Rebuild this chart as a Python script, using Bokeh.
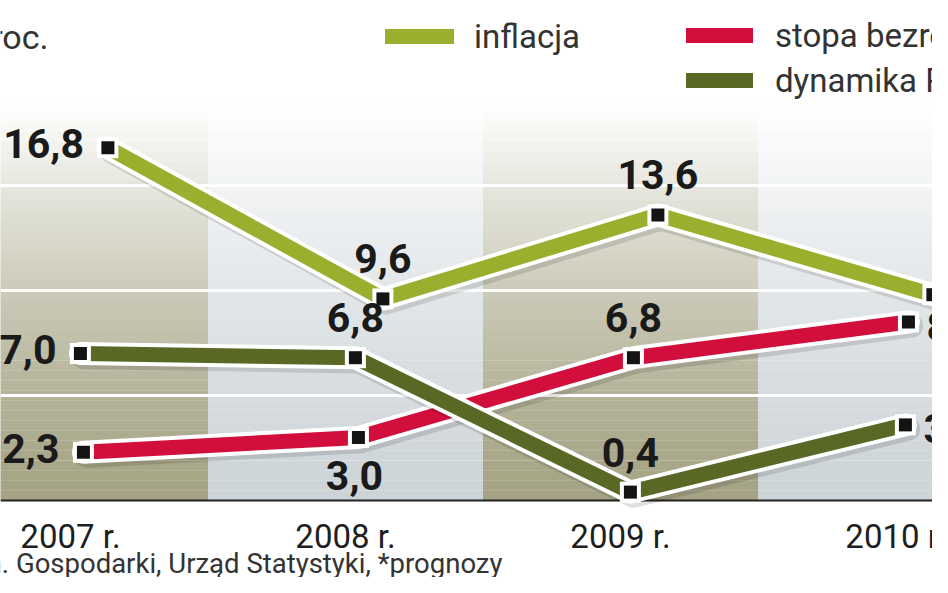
from bokeh.plotting import figure
from bokeh.models import ColumnDataSource, Range1d, Legend, LegendItem, Label
from bokeh.transform import dodge
from bokeh.core.properties import value, field
from bokeh.embed import file_html
from bokeh.resources import INLINE

# ---------------- data ----------------
years = [2007, 2008, 2009, 2010]
year_labels = ["2007 r.", "2008 r.", "2009 r.", "2010 r."]
inflacja = [16.8, 9.6, 13.6, 9.8]
stopa_bezrobocia = [2.3, 3.0, 6.8, 8.5]
dynamika_pkb = [7.0, 6.8, 0.4, 3.6]
gridline_values = [5, 10, 15]
unit_text = "w proc."
source_text = "Źródło: Min. Gospodarki, Urząd Statystyki, *prognozy"

# ---------------- layout ----------------
W, H = 932, 577
PX_PER_YEAR = 275.0
X0_PX = 70.0          # screen x of the first year centre
PX_PER_UNIT = 21.0
Y0_PX = 500.0         # screen y (from top) of value 0

x_start = years[0] - X0_PX / PX_PER_YEAR
x_end = x_start + W / PX_PER_YEAR
y_top = Y0_PX / PX_PER_UNIT
y_bottom = -(H - Y0_PX) / PX_PER_UNIT

FONT = "Roboto"

p = figure(width=W, height=H,
           x_range=Range1d(x_start, x_end), y_range=Range1d(y_bottom, y_top),
           output_backend="svg", toolbar_location=None,
           x_axis_location=None, y_axis_location=None,
           min_border=0, outline_line_color=None,
           background_fill_color="white", border_fill_color="white")
p.grid.visible = False

# ---------------- background bands (vertical gradient) ----------------
band_colors = [(165, 163, 132), (205, 212, 216)]
band_top = 19.0
steps = 40
bl, br, bb, bt, bc = [], [], [], [], []
for i, yr in enumerate(years):
    base = band_colors[i % 2]
    for k in range(steps):
        b = band_top * k / steps
        t = band_top * (k + 1) / steps
        f = min(1.0, (((b + t) / 2) / band_top) ** 1.3)
        c = tuple(int(round(ch + (255 - ch) * f)) for ch in base)
        bl.append(yr - 0.5)
        br.append(yr + 0.5)
        bb.append(b)
        bt.append(t + 0.01)
        bc.append("#%02x%02x%02x" % c)
p.quad(left=bl, right=br, bottom=bb, top=bt, fill_color=bc, line_color=None)

p.hspan(y=gridline_values, line_color="white", line_width=3)
p.hspan(y=[0], line_color="#222222", line_width=2)

# ---------------- series ----------------
def fmt(v):
    return ("%.1f" % v).replace(".", ",")

POS = {"left": (-24, -4, "right"), "above": (0, -40, "center"),
       "below": (-4, 38, "center"), "right": (18, 4, "left")}

series = [
    dict(name="stopa bezrobocia", values=stopa_bezrobocia, color="#d20f3c", dodge=0.047,
         pos=["left", "below", "above", "right"]),
    dict(name="dynamika PKB", values=dynamika_pkb, color="#5a6826", dodge=0.036,
         pos=["left", "above", "above", "right"]),
    dict(name="inflacja", values=inflacja, color="#9aaf2e", dodge=0.136,
         pos=["left", "above", "above", "right"]),
]

renderers = {}
sources = []
for s in series:
    src = ColumnDataSource(dict(
        x=years, y=s["values"], label=[fmt(v) for v in s["values"]],
        xo=[POS[q][0] for q in s["pos"]], yo=[POS[q][1] for q in s["pos"]],
        align=[POS[q][2] for q in s["pos"]]))
    sources.append((s, src))
    xs = dodge("x", s["dodge"])
    p.line(x=dodge("x", s["dodge"] + 0.012), y=dodge("y", -0.2), source=src,
           line_color="black", line_alpha=0.12, line_width=23,
           line_join="round", line_cap="round")
    p.line(x=xs, y="y", source=src, line_color="white", line_width=23,
           line_join="round", line_cap="round")
    r = p.line(x=xs, y="y", source=src, line_color=s["color"], line_width=15,
               line_join="round", line_cap="round")
    renderers[s["name"]] = r

for s, src in sources:
    xs = dodge("x", s["dodge"])
    p.scatter(x=xs, y="y", source=src, marker="square", size=21,
              fill_color="white", line_color=None)
    p.scatter(x=xs, y="y", source=src, marker="square", size=13,
              fill_color="#141414", line_color=None)

for s, src in sources:
    xs = dodge("x", s["dodge"])
    p.text(x=xs, y="y", text="label", source=src,
           x_offset="xo", y_offset="yo", text_align=field("align"),
           text_baseline="middle", text_font=value(FONT), text_font_style="bold",
           text_font_size="41px", text_color="#1a1a1a")

# ---------------- category labels ----------------
ysrc = ColumnDataSource(dict(x=years, text=year_labels))
p.text(x="x", y=-1.72, text="text", source=ysrc, text_align="center",
       text_baseline="middle", text_font=value(FONT), text_font_size="33px",
       text_color="#1e1e1e")

# ---------------- legends ----------------
leg_common = dict(padding=0, margin=0, border_line_color=None,
                  background_fill_alpha=0, glyph_height=40, label_height=40,
                  label_text_font=FONT, label_text_font_size="33px",
                  label_text_color="#333333")
leg1 = Legend(items=[LegendItem(label="inflacja", renderers=[renderers["inflacja"]])],
              location=(385, 521), glyph_width=69, label_standoff=20, **leg_common)
leg2 = Legend(items=[LegendItem(label="stopa bezrobocia", renderers=[renderers["stopa bezrobocia"]]),
                     LegendItem(label="dynamika PKB", renderers=[renderers["dynamika PKB"]])],
              location=(686, 477), glyph_width=67, label_standoff=22, spacing=5, **leg_common)
p.add_layout(leg1)
p.add_layout(leg2)

# ---------------- texts ----------------
p.add_layout(Label(x=48, y=541, x_units="screen", y_units="screen", text=unit_text,
                   text_align="right", text_baseline="alphabetic",
                   text_font=FONT, text_font_size="34px", text_color="#333333"))
p.add_layout(Label(x=502, y=14, x_units="screen", y_units="screen", text=source_text,
                   text_align="right", text_baseline="alphabetic",
                   text_font=FONT, text_font_size="27.5px", text_color="#333333"))

open("out.html", "w").write(file_html(p, INLINE, title="inflacja"))
